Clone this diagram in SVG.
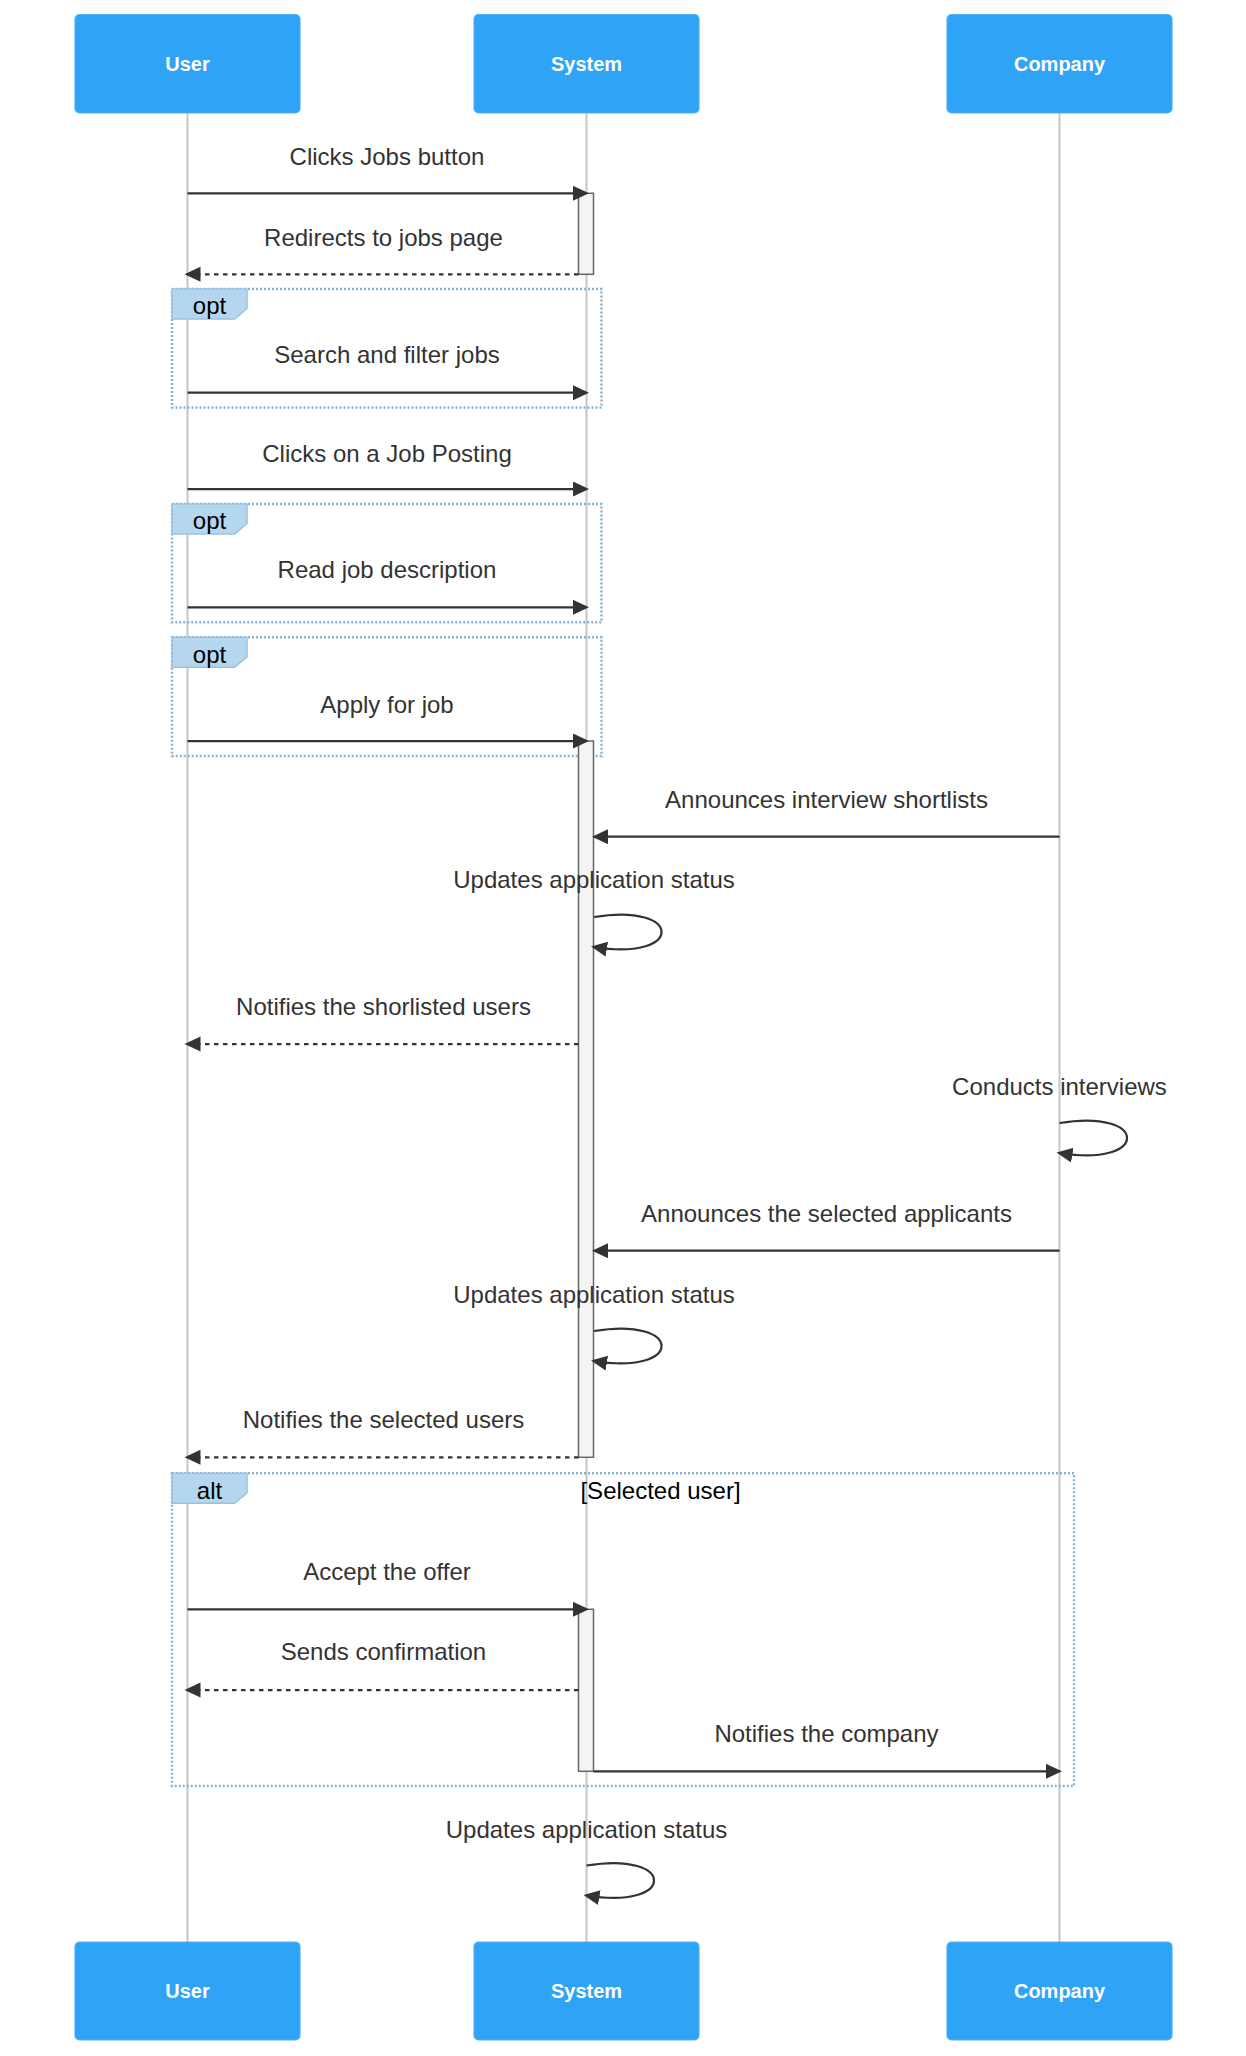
<svg xmlns="http://www.w3.org/2000/svg" width="1246" height="2056" viewBox="0 0 1246 2056">
<style>
.bg{fill:#ffffff}
.actor rect{fill:#2fa3f6;stroke:#4fb1f7;stroke-width:1.2}
.actor text{fill:#ffffff;font-family:"Liberation Sans",Arial,sans-serif;font-weight:bold;font-size:20px;text-anchor:middle}
.life{stroke:#c6c6c6;stroke-width:2}
.frame{fill:none;stroke:#8ab3d1;stroke-width:2.5;stroke-dasharray:2,2}
.lbox{fill:#b5d6ef;stroke:#99c2e0;stroke-width:1.5}
.ftext{fill:#000000;font-family:"Liberation Sans",Arial,sans-serif;font-size:24px;text-anchor:middle}
.act{fill:#f4f4f4;stroke:#666666;stroke-width:1.5}
.msg{stroke:#333333;stroke-width:2.25;fill:none;marker-end:url(#ah)}
.dash{stroke-dasharray:4.5,4.5}
.mtext{fill:#333333;font-family:"Liberation Sans",Arial,sans-serif;font-size:24px;text-anchor:middle}
</style>
<defs>
<marker id="ah" markerUnits="userSpaceOnUse" markerWidth="17" markerHeight="16" refX="13" refY="7.5" orient="auto">
<path d="M0,0 L16,7.5 L0,15 z" fill="#333333"/>
</marker>
</defs>
<rect class="bg" x="0" y="0" width="1246" height="2056"/>

<g id="lifelines">
<line class="life" x1="187.5" y1="113" x2="187.5" y2="1942"/>
<line class="life" x1="586.5" y1="113" x2="586.5" y2="1942"/>
<line class="life" x1="1059.5" y1="113" x2="1059.5" y2="1942"/>
</g>

<g id="frames">
<g id="opt1">
<rect class="frame" x="172" y="289" width="429.5" height="118.5"/>
<polygon class="lbox" points="172,289 247,289 247,308.5 234.6,319 172,319"/>
<text class="ftext" x="209.5" y="314.3">opt</text>
</g>
<g id="opt2">
<rect class="frame" x="172" y="504" width="429.5" height="118.3"/>
<polygon class="lbox" points="172,504 247,504 247,523.5 234.6,534 172,534"/>
<text class="ftext" x="209.5" y="529.3">opt</text>
</g>
<g id="opt3">
<rect class="frame" x="172" y="637.3" width="429.5" height="118.7"/>
<polygon class="lbox" points="172,637.3 247,637.3 247,656.8 234.6,667.3 172,667.3"/>
<text class="ftext" x="209.5" y="662.6">opt</text>
</g>
<g id="alt1">
<rect class="frame" x="172" y="1473.3" width="902" height="312.7"/>
<polygon class="lbox" points="172,1473.3 247,1473.3 247,1492.8 234.6,1503.3 172,1503.3"/>
<text class="ftext" x="209.5" y="1498.6">alt</text>
<text class="ftext" x="660.5" y="1499">[Selected user]</text>
</g>
</g>

<g id="activations">
<rect class="act" x="578.5" y="193.3" width="15" height="81"/>
<rect class="act" x="578.5" y="741" width="15" height="716.3"/>
<rect class="act" x="578.5" y="1609.3" width="15" height="162"/>
</g>

<g id="connectors">
<line class="msg" x1="187.5" y1="193.3" x2="586" y2="193.3"/>
<line class="msg dash" x1="578.5" y1="274.3" x2="187.5" y2="274.3"/>
<line class="msg" x1="187.5" y1="392.7" x2="586" y2="392.7"/>
<line class="msg" x1="187.5" y1="489" x2="586" y2="489"/>
<line class="msg" x1="187.5" y1="607.3" x2="586" y2="607.3"/>
<line class="msg" x1="187.5" y1="741" x2="586" y2="741"/>
<line class="msg" x1="1059.5" y1="836.7" x2="595" y2="836.7"/>
<path class="msg" d="M594,917 C684,902 684,962 594,947"/>
<line class="msg dash" x1="578.5" y1="1044" x2="187.5" y2="1044"/>
<path class="msg" d="M1059.5,1123 C1149.5,1108 1149.5,1168 1059.5,1153"/>
<line class="msg" x1="1059.5" y1="1250.7" x2="595" y2="1250.7"/>
<path class="msg" d="M594,1331 C684,1316 684,1376 594,1361"/>
<line class="msg dash" x1="578.5" y1="1457.3" x2="187.5" y2="1457.3"/>
<line class="msg" x1="187.5" y1="1609.3" x2="586" y2="1609.3"/>
<line class="msg dash" x1="578.5" y1="1690" x2="187.5" y2="1690"/>
<line class="msg" x1="593.5" y1="1771.3" x2="1059" y2="1771.3"/>
<path class="msg" d="M586.5,1865.5 C676.5,1850.5 676.5,1910.5 586.5,1895.5"/>
</g>

<g id="labels">
<text class="mtext" x="387" y="165">Clicks Jobs button</text>
<text class="mtext" x="383.5" y="246">Redirects to jobs page</text>
<text class="mtext" x="387" y="363">Search and filter jobs</text>
<text class="mtext" x="387" y="461.7">Clicks on a Job Posting</text>
<text class="mtext" x="387" y="578.3">Read job description</text>
<text class="mtext" x="387" y="713.3">Apply for job</text>
<text class="mtext" x="826.5" y="808.3">Announces interview shortlists</text>
<text class="mtext" x="594" y="888.3">Updates application status</text>
<text class="mtext" x="383.5" y="1015">Notifies the shorlisted users</text>
<text class="mtext" x="1059.5" y="1095">Conducts interviews</text>
<text class="mtext" x="826.5" y="1221.7">Announces the selected applicants</text>
<text class="mtext" x="594" y="1302.7">Updates application status</text>
<text class="mtext" x="383.5" y="1428.3">Notifies the selected users</text>
<text class="mtext" x="387" y="1580">Accept the offer</text>
<text class="mtext" x="383.5" y="1660">Sends confirmation</text>
<text class="mtext" x="826.5" y="1741.7">Notifies the company</text>
<text class="mtext" x="586.5" y="1838.3">Updates application status</text>
</g>

<g id="actor-user-top" class="actor">
<rect x="75" y="14.5" width="225" height="98.5" rx="4.5"/>
<text x="187.5" y="70.5">User</text>
</g>
<g id="actor-system-top" class="actor">
<rect x="474" y="14.5" width="225" height="98.5" rx="4.5"/>
<text x="586.5" y="70.5">System</text>
</g>
<g id="actor-company-top" class="actor">
<rect x="947" y="14.5" width="225" height="98.5" rx="4.5"/>
<text x="1059.5" y="70.5">Company</text>
</g>
<g id="actor-user-bottom" class="actor">
<rect x="75" y="1942" width="225" height="98" rx="4.5"/>
<text x="187.5" y="1998">User</text>
</g>
<g id="actor-system-bottom" class="actor">
<rect x="474" y="1942" width="225" height="98" rx="4.5"/>
<text x="586.5" y="1998">System</text>
</g>
<g id="actor-company-bottom" class="actor">
<rect x="947" y="1942" width="225" height="98" rx="4.5"/>
<text x="1059.5" y="1998">Company</text>
</g>
</svg>
